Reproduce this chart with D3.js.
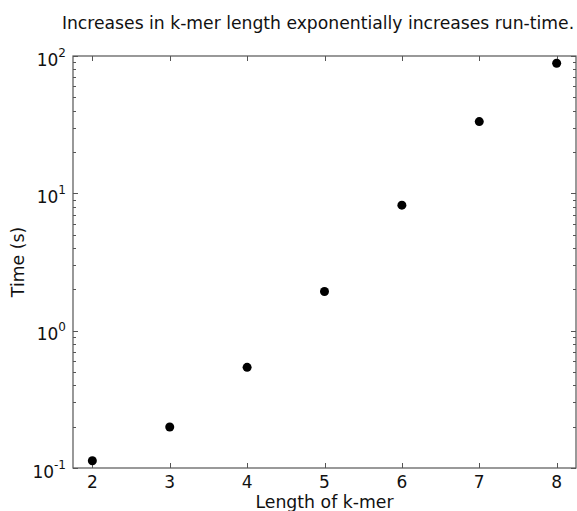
<!DOCTYPE html>
<html><head><meta charset="utf-8">
<script src="https://cdn.jsdelivr.net/npm/d3@7"></script>
<style>body{margin:0;background:#fff;} svg{display:block;font-family:"DejaVu Sans",sans-serif;}</style>
</head><body>
<svg id="c" width="577" height="511"></svg>
<script>
const kmerLengths = [2, 3, 4, 5, 6, 7, 8];
const runTimes = [0.113, 0.199, 0.541, 1.93, 8.2, 33.3, 88.5];
const xTicks = [2, 3, 4, 5, 6, 7, 8];
const yTicks = [0.1, 1, 10, 100];
const yExponents = ["-1", "0", "1", "2"];
const title = "Increases in k-mer length exponentially increases run-time.";
const xLabel = "Length of k-mer";
const yLabel = "Time (s)";

const svg = d3.select("#c");
const L = 73, R = 576, T = 56, B = 468;
const x = d3.scaleLinear().domain([1.75, 8.25]).range([L, R]);
const y = d3.scaleLog().domain([0.1, 100]).range([B, T]);
const axisColor = "#555";

const minor = [];
for (let e = -1; e < 2; e++) for (let m = 2; m <= 9; m++) minor.push(m * Math.pow(10, e));

const g = svg.append("g");
g.append("rect").attr("x", L).attr("y", T).attr("width", R - L).attr("height", B - T)
  .attr("fill", "none").attr("stroke", axisColor).attr("stroke-width", 1.2);

xTicks.forEach(v => {
  const px = Math.round(x(v)) + 0.5;
  g.append("line").attr("x1", px).attr("x2", px).attr("y1", B).attr("y2", B - 5).attr("stroke", axisColor);
  g.append("line").attr("x1", px).attr("x2", px).attr("y1", T).attr("y2", T + 5).attr("stroke", axisColor);
  g.append("text").attr("x", x(v)).attr("y", B + 20).attr("text-anchor", "middle")
    .attr("font-size", 17).attr("fill", "#111").text(v);
});
yTicks.forEach((v, i) => {
  const py = Math.round(y(v)) + 0.5;
  g.append("line").attr("x1", L).attr("x2", L + 5).attr("y1", py).attr("y2", py).attr("stroke", axisColor);
  g.append("line").attr("x1", R).attr("x2", R - 5).attr("y1", py).attr("y2", py).attr("stroke", axisColor);
  const t = g.append("text").attr("x", 66).attr("y", y(v) + 9.5).attr("text-anchor", "end")
    .attr("font-size", 17).attr("fill", "#111");
  t.append("tspan").text("10");
  t.append("tspan").attr("dy", -9).attr("font-size", 12).text(yExponents[i]);
});
minor.forEach(v => {
  const py = Math.round(y(v)) + 0.5;
  g.append("line").attr("x1", L).attr("x2", L + 3).attr("y1", py).attr("y2", py).attr("stroke", axisColor);
  g.append("line").attr("x1", R).attr("x2", R - 3).attr("y1", py).attr("y2", py).attr("stroke", axisColor);
});

g.selectAll("circle.pt").data(kmerLengths).join("circle").attr("class", "pt")
  .attr("cx", d => x(d)).attr("cy", (d, i) => y(runTimes[i])).attr("r", 4.5).attr("fill", "#000");

svg.append("text").attr("x", (L + R) / 2).attr("y", 507.5).attr("text-anchor", "middle")
  .attr("font-size", 17.3).attr("fill", "#111").text(xLabel);
svg.append("text").attr("transform", `translate(24,${(T + B) / 2}) rotate(-90)`).attr("text-anchor", "middle")
  .attr("font-size", 17.3).attr("fill", "#111").text(yLabel);
svg.append("text").attr("x", 318).attr("y", 29).attr("text-anchor", "middle")
  .attr("font-size", 17.2).attr("fill", "#111").text(title);
</script>
</body></html>
